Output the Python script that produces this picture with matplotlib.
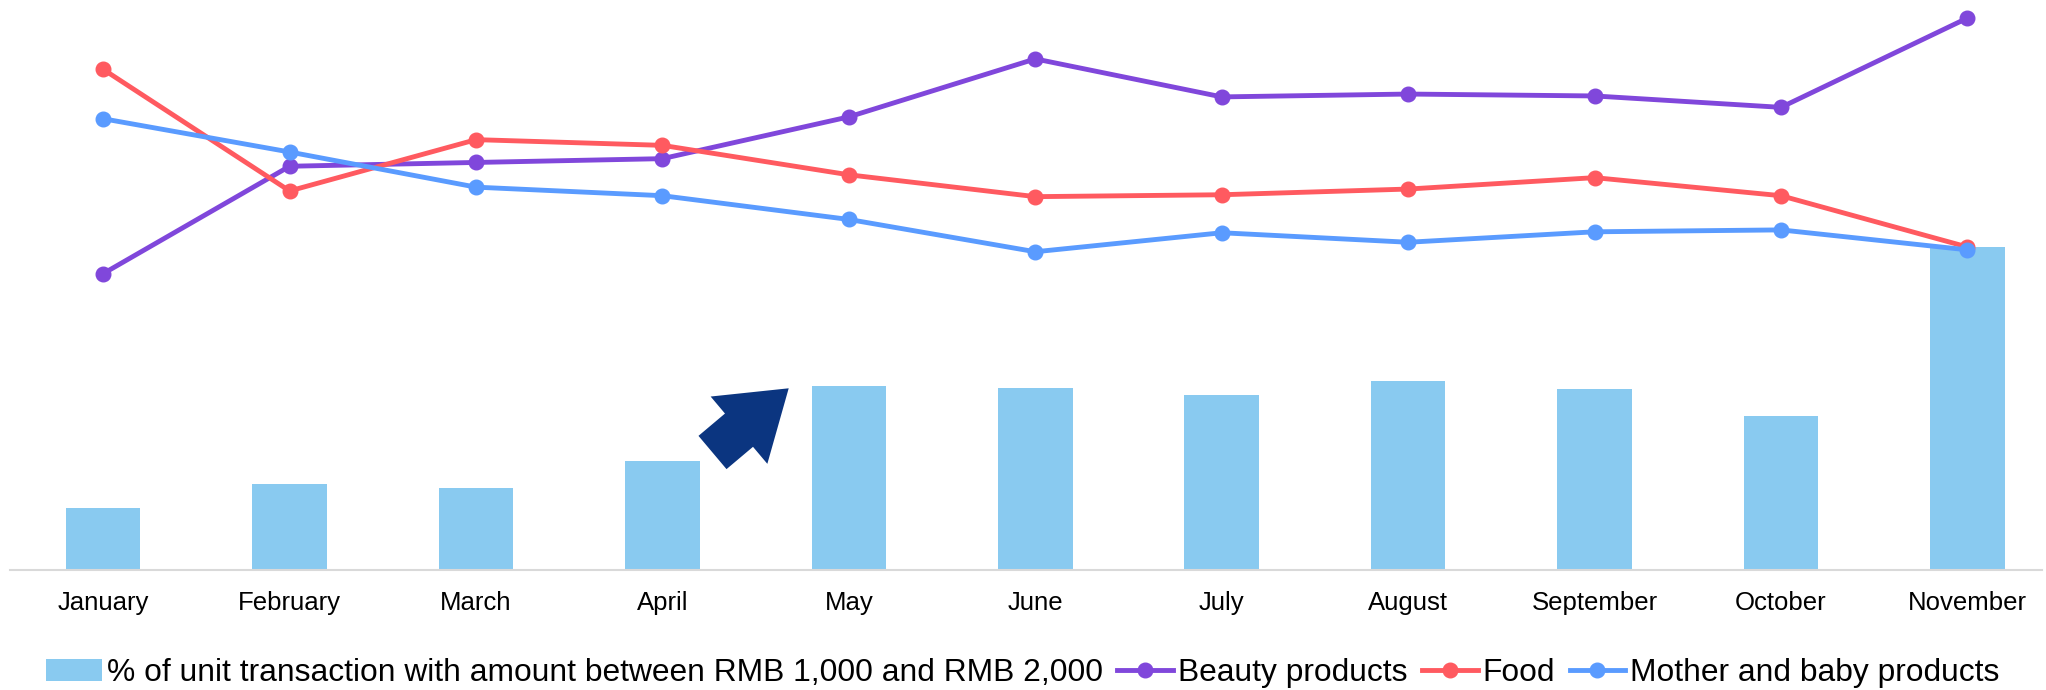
import matplotlib.pyplot as plt

plt.rcParams['font.family'] = ['Liberation Sans', 'DejaVu Sans']

months = ['January', 'February', 'March', 'April', 'May', 'June',
          'July', 'August', 'September', 'October', 'November']

# share of unit transactions between RMB 1,000 and 2,000 (%)
share_1k_2k = [1.52, 2.11, 2.01, 2.68, 4.52, 4.48, 4.29, 4.64, 4.45, 3.78, 7.93]

# category index values
beauty = [31.2, 42.5, 42.9, 43.3, 47.7, 53.8, 49.8, 50.1, 49.9, 48.7, 58.1]
food = [52.7, 39.9, 45.3, 44.7, 41.6, 39.3, 39.5, 40.1, 41.3, 39.4, 34.0]
mother_baby = [47.5, 44.0, 40.3, 39.4, 36.9, 33.5, 35.5, 34.5, 35.6, 35.8, 33.7]

bar_label = '% of unit transaction with amount between RMB 1,000 and RMB 2,000'
line_series = [
    ('Beauty products', beauty, '#8047DB'),
    ('Food', food, '#FF5A60'),
    ('Mother and baby products', mother_baby, '#5A9BFF'),
]

W, H = 2046, 690
fig = plt.figure(figsize=(W / 100, H / 100), dpi=100)
ax = fig.add_axes([10 / W, 120 / H, 2032 / W, 570 / H])

x = list(range(len(months)))
ax.bar(x, share_1k_2k, width=0.4, color='#89CAF0', label=bar_label)
ax.set_xlim(-0.5, 10.4)
ax.set_ylim(0, 14)
ax.set_xticks(x)
ax.set_xticklabels(months, fontsize=18.5)
ax.tick_params(axis='x', length=0, pad=15)
ax.set_yticks([])
for side in ['top', 'left', 'right']:
    ax.spines[side].set_visible(False)
ax.spines['bottom'].set_color('#D9D9D9')
ax.spines['bottom'].set_linewidth(1.5)

ax2 = ax.twinx()
for name, vals, col in line_series:
    ax2.plot(x, vals, color=col, lw=3.5, marker='o', markersize=10.5,
             label=name, clip_on=False)
ax2.set_ylim(0, 60)
ax2.set_yticks([])
for s in ax2.spines.values():
    s.set_visible(False)

# block arrow pointing up towards the May bar
tail = (712.5 / W, 1 - 452.5 / H)
tip = (788.7 / W, 1 - 388.3 / H)
ax.annotate('', xy=tip, xytext=tail, xycoords='figure fraction',
            textcoords='figure fraction',
            arrowprops=dict(arrowstyle='simple,head_length=65,head_width=88,tail_width=43.5',
                            mutation_scale=0.72, color='#0B3580', lw=0,
                            shrinkA=0, shrinkB=0))

h1, l1 = ax.get_legend_handles_labels()
h2, l2 = ax2.get_legend_handles_labels()
fig.legend(h1 + h2, l1 + l2, loc='center', bbox_to_anchor=(0.5, 1 - 673 / H),
           ncol=4, frameon=False, fontsize=22.9, handlelength=1.75,
           handletextpad=0.16, columnspacing=0.45)

fig.savefig('out.png', dpi=100)
